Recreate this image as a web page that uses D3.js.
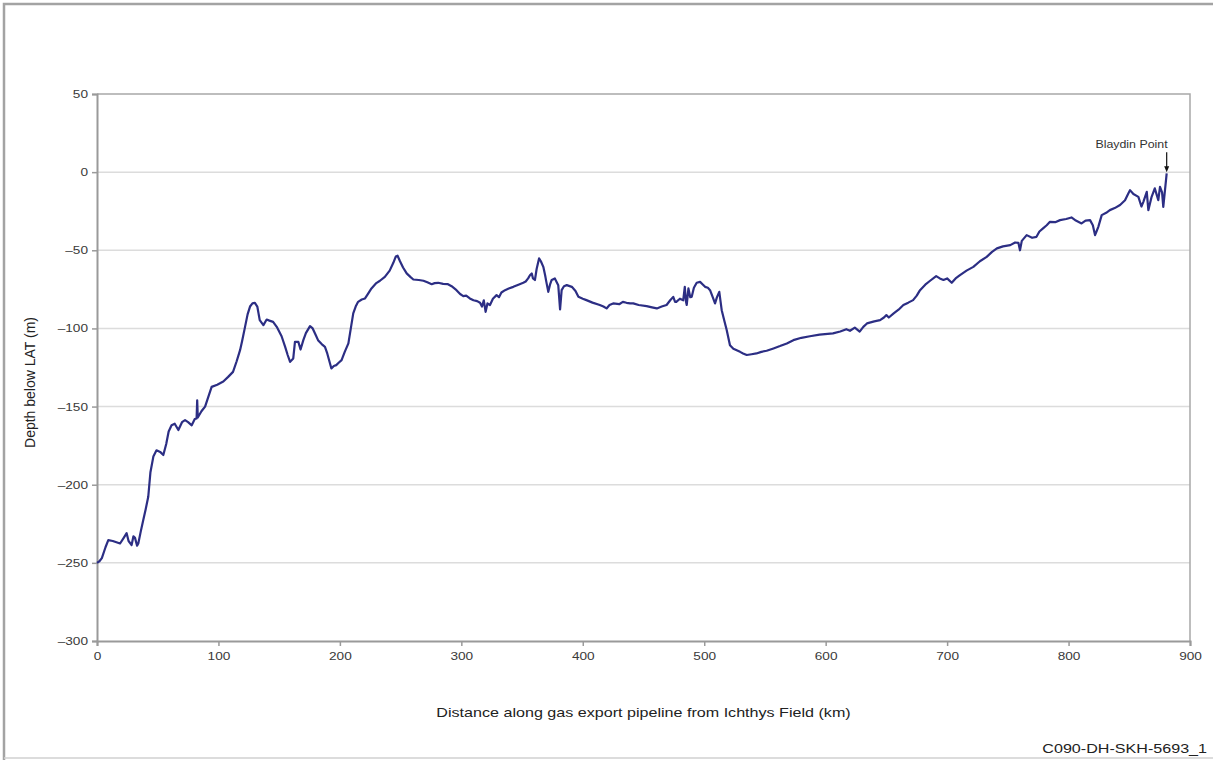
<!DOCTYPE html>
<html>
<head>
<meta charset="utf-8">
<script src="https://cdn.jsdelivr.net/npm/d3@7"></script>
<style>
  html, body { margin: 0; padding: 0; background: #fff; }
  svg { display: block; }
  text { font-family: "Liberation Sans", Arial, sans-serif; }
</style>
</head>
<body>
<svg id="chart" width="1213" height="760"></svg>
<script>
// Seabed profile along the export pipeline
const distanceKm = [
  0, 2, 4, 7, 9.3, 13, 19, 22, 24.4, 26, 28.5, 30, 31.3, 33, 34, 36, 38.1, 40, 42.2, 44,
  46.4, 49, 52, 54.6, 57, 59, 61.4, 64, 67, 70, 72.5, 75, 78, 80.5, 82, 82.5, 83, 86, 89, 92,
  94.4, 99, 104, 108, 112, 115, 117.8, 119.5, 121.9, 124, 126, 128, 130, 132, 134, 137, 139.7, 142, 145, 148,
  152, 155, 157, 159, 161.6, 163, 165.8, 167.6, 169.9, 172, 175.4, 177.6, 180, 182, 185, 187.7, 189.6, 193, 195, 197,
  199, 201.4, 204, 207, 209, 211, 213, 215, 218, 220.7, 223, 226, 230, 233, 237, 241, 244, 246, 247.5, 249.5,
  252, 255, 258, 260.5, 265, 268.8, 272, 275.6, 278, 281, 285, 289, 292, 296, 299, 301.6, 304, 307, 310, 313,
  315.4, 317, 318.5, 320, 321.5, 323.6, 326, 329, 331, 333, 336, 339, 342.8, 347, 351, 353, 355, 356.5, 358, 359,
  360.6, 362, 364, 365.5, 367.5, 369, 370, 371.6, 373, 374.4, 377, 379.8, 381.3, 382.6, 384.5, 386.8, 391, 394, 396.4, 400,
  403, 408, 414, 417, 419.6, 422, 425, 430, 433, 436, 439, 441.6, 446, 452.6, 457, 461, 465, 469, 472, 474.5,
  476, 477, 480, 482.7, 484, 485, 485.6, 487, 488.5, 489.7, 491.5, 493.8, 496.6, 499, 500.7, 503, 504.8, 507, 508.9, 510.5,
  512.4, 514.4, 516.5, 518.5, 521.2, 524, 529.5, 532, 535, 539, 543, 547, 551.4, 557, 562.4, 568, 573.4, 580, 587, 595,
  606, 612, 617, 620, 624, 628, 631, 634, 640, 644.8, 648, 650, 652, 656, 660, 664, 668, 672, 675, 677.7,
  682, 686, 691, 694, 697, 700, 703.8, 707, 710.6, 716, 721.6, 727, 732.6, 737, 741, 746, 752, 756, 758.7, 760,
  761.5, 765.5, 770, 773.6, 776, 779, 782, 784.7, 789, 793, 798, 802.4, 806, 810.7, 814, 817.7, 820, 821.8, 823, 824.5,
  827.3, 831, 834, 838, 842.4, 846.5, 849, 850.6, 853.4, 857.5, 860, 861.6, 864.4, 865.7, 868.4, 871, 873.9, 875.3, 877, 878,
  879.4, 880.8
];
const depthM = [
  -250, -249, -247, -240, -235.5, -236, -237.6, -234, -231, -236, -238.6, -233, -234, -239, -237.6, -230, -222.6, -216, -207.7, -192,
  -182, -178, -179, -181, -174, -166, -162, -161, -165, -160, -158.7, -160, -162, -158, -157.6, -146, -157, -153, -150, -143,
  -137.4, -136, -134, -131, -127.8, -121, -113.9, -108, -99, -91, -86, -84, -83.6, -86, -94.7, -97.9, -94.3, -95, -95.8, -99,
  -105, -112, -117, -121.4, -119.2, -108.6, -108.6, -113.5, -107.5, -103, -98.5, -100, -104, -107.5, -110, -111.8, -116, -125.6, -124, -123.5,
  -122, -120.3, -115, -109.6, -100, -90.4, -86, -83, -81.5, -80.8, -78, -74.4, -71, -69.5, -67, -63, -58, -54, -53.5, -57,
  -61, -64.8, -67, -68.7, -69, -69.5, -70.5, -71.7, -71, -70.8, -71.5, -71.7, -73, -75.5, -78, -79.3, -79, -80.8, -82, -82.5,
  -83.6, -86, -82, -89.4, -84, -85, -81, -78.7, -80, -77, -75.5, -74.5, -73.4, -72, -70.8, -70, -68, -66, -64.8, -68,
  -69, -62, -55.2, -57, -60.6, -66, -70.2, -76.6, -72, -69, -68, -72.3, -87.8, -75.5, -73, -72.3, -73.4, -76, -79.8, -81,
  -81.9, -83.5, -85, -86, -87.2, -85, -84, -84.5, -83, -83.6, -84, -84, -85, -85.7, -86.5, -87.2, -86, -85, -82, -79.8,
  -83, -83, -81, -82, -73.4, -83, -85, -74.4, -80, -79.8, -74, -70.8, -70.2, -72, -73.4, -74, -75.5, -80, -84, -80,
  -76.6, -88.3, -95, -101, -110.7, -113, -115, -116, -117, -116.5, -116, -115, -114.3, -112.8, -111.3, -109.6, -107.5, -106, -105, -104,
  -103.2, -102, -100.5, -101.5, -99.5, -102, -99, -96.8, -95.5, -94.7, -93, -91.5, -93, -90.4, -88, -85, -83.5, -81.9, -79, -75.5,
  -72, -69.5, -66.5, -68, -69, -68, -70.8, -68, -65.9, -63, -60.6, -57, -54.2, -51, -48.8, -47.5, -46.7, -45, -45.2, -50,
  -44, -40.3, -42, -41.4, -38, -36, -34, -31.8, -32, -30.7, -30, -29, -31, -32.8, -31, -30.7, -34, -40.3, -38, -35,
  -27.5, -26, -24.3, -23, -21, -18, -14, -11.5, -14, -15.8, -22, -19, -12.6, -24.3, -15.8, -10.4, -17.9, -9.4, -13, -22.2,
  -11.5, -0.8
];

const xTicks = [0, 100, 200, 300, 400, 500, 600, 700, 800, 900];
const yTicks = [50, 0, -50, -100, -150, -200, -250, -300];

const landfallLabel = "Blaydin Point";
const landfallKm = 880.8;
const landfallDepth = 0;

const xTitle = "Distance along gas export pipeline from Ichthys Field (km)";
const yTitle = "Depth below LAT (m)";
const drawingRef = "C090-DH-SKH-5693_1";

// horizontal text is set in a slightly widened face
const WIDEN = 1.24;

const svg = d3.select("#chart");
const W = 1213, H = 760;
const plot = { left: 97, right: 1190, top: 94, bottom: 641 };

const x = d3.scaleLinear().domain([0, 900]).range([plot.left, plot.right]);
const y = d3.scaleLinear().domain([-300, 50]).range([plot.bottom, plot.top]);

// draws a horizontally widened text anchored at (tx, ty)
function wideText(tx, ty, str, size, anchor) {
  return svg.append("text")
    .attr("transform", `translate(${tx},${ty}) scale(${WIDEN},1)`)
    .attr("text-anchor", anchor)
    .attr("font-size", size)
    .attr("fill", "#222")
    .text(str);
}

// page frame
svg.append("path")
  .attr("d", `M4,${H + 5} L4,4 L${W + 5},4`)
  .attr("fill", "none").attr("stroke", "#a3a3a3").attr("stroke-width", 2.5);
svg.append("line")
  .attr("x1", 4).attr("x2", W).attr("y1", 758).attr("y2", 758)
  .attr("stroke", "#d0d0d0").attr("stroke-width", 1.5);

// horizontal gridlines
svg.append("g")
  .selectAll("line")
  .data(yTicks.filter(d => d > -300 && d < 50))
  .join("line")
  .attr("x1", plot.left).attr("x2", plot.right)
  .attr("y1", d => y(d)).attr("y2", d => y(d))
  .attr("stroke", "#dcdcdc").attr("stroke-width", 1.5);

// plot border (top and right)
svg.append("path")
  .attr("d", `M${plot.left},${plot.top} L${plot.right},${plot.top} L${plot.right},${plot.bottom}`)
  .attr("fill", "none").attr("stroke", "#a8a8a8").attr("stroke-width", 1.5);

// axes
const yAxis = d3.axisLeft(y).tickValues(yTicks).tickSize(5).tickPadding(4)
  .tickFormat(d => d < 0 ? "\u2013" + Math.abs(d) : String(d));
const gy = svg.append("g").attr("transform", `translate(${plot.left},0)`).call(yAxis);

const xAxis = d3.axisBottom(x).tickValues(xTicks).tickSize(5).tickPadding(6);
const gx = svg.append("g").attr("transform", `translate(0,${plot.bottom})`).call(xAxis);

[gx, gy].forEach(g => {
  g.attr("color", "#444");
  g.select(".domain").attr("stroke", "#9a9a9a").attr("stroke-width", 2);
  g.selectAll(".tick line").attr("stroke", "#9a9a9a").attr("stroke-width", 1.5);
  g.selectAll(".tick text")
    .attr("font-family", "'Liberation Sans', Arial, sans-serif")
    .attr("font-size", 11)
    .attr("fill", "#3a3a3a");
});
// widen tick labels about their anchor
gy.selectAll(".tick text").attr("transform", `translate(-9,0) scale(${WIDEN},1) translate(9,0)`);
gx.selectAll(".tick text").attr("transform", `scale(${WIDEN},1)`);

// profile line
const line = d3.line()
  .x((d, i) => x(distanceKm[i]))
  .y(d => y(d));
svg.append("path")
  .datum(depthM)
  .attr("d", line)
  .attr("fill", "none")
  .attr("stroke", "#2c2e84")
  .attr("stroke-width", 2.2)
  .attr("stroke-linejoin", "round");

// landfall annotation
const ax = x(landfallKm), ay = y(landfallDepth);
svg.append("line")
  .attr("x1", ax).attr("x2", ax).attr("y1", ay - 20).attr("y2", ay - 5)
  .attr("stroke", "#111").attr("stroke-width", 1.2);
svg.append("path")
  .attr("d", `M${ax - 2.5},${ay - 6} L${ax + 2.5},${ay - 6} L${ax},${ay} Z`)
  .attr("fill", "#111");
wideText(ax + 1, ay - 24, landfallLabel, 10, "end").attr("fill", "#333");

// axis titles
wideText((plot.left + plot.right) / 2, 717, xTitle, 13, "middle");
svg.append("text")
  .attr("transform", `translate(35,${(plot.top + plot.bottom) / 2 + 15}) rotate(-90)`)
  .attr("text-anchor", "middle").attr("font-size", 14).attr("fill", "#222")
  .text(yTitle);

wideText(1207, 753, drawingRef, 13, "end");
</script>
</body>
</html>
